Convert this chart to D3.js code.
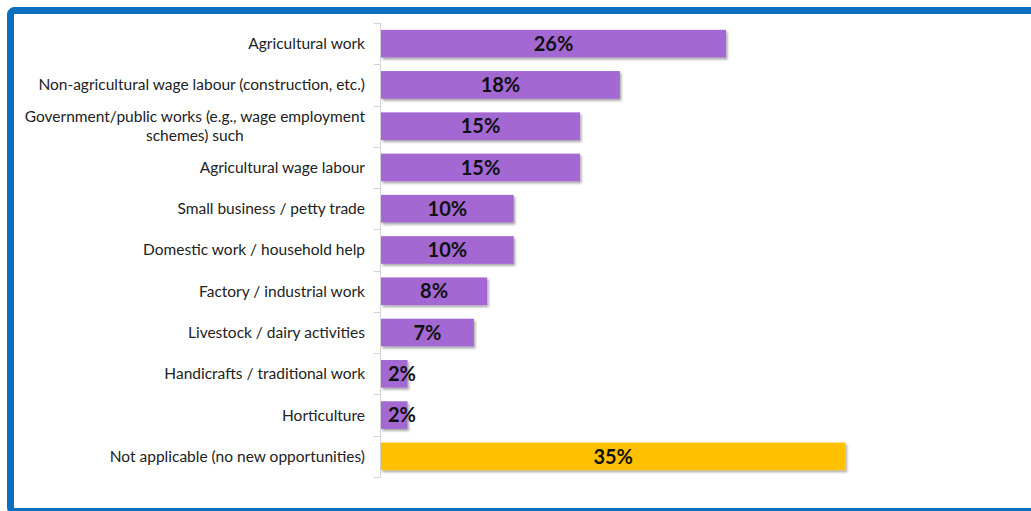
<!DOCTYPE html>
<html>
<head>
<meta charset="utf-8">
<script src="https://cdn.jsdelivr.net/npm/d3@7"></script>
<style>
  html, body { margin: 0; padding: 0; background: #ffffff; }
  svg { display: block; }
</style>
</head>
<body>
<svg id="chart" width="1031" height="511"></svg>
<script>
// Sources of new work opportunities (% of respondents)
const categories = [
  "Agricultural work",
  "Non-agricultural wage labour (construction, etc.)",
  "Government/public works (e.g., wage employment schemes) such",
  "Agricultural wage labour",
  "Small business / petty trade",
  "Domestic work / household help",
  "Factory / industrial work",
  "Livestock / dairy activities",
  "Handicrafts / traditional work",
  "Horticulture",
  "Not applicable (no new opportunities)"
];
const values = [26, 18, 15, 15, 10, 10, 8, 7, 2, 2, 35];
const highlighted = ["Not applicable (no new opportunities)"];

const W = 1031, H = 511;
const svg = d3.select("#chart");

// drop shadow used under the bars
const defs = svg.append("defs");
const f = defs.append("filter").attr("id", "barShadow")
  .attr("x", "-5%").attr("y", "-20%").attr("width", "115%").attr("height", "160%");
f.append("feDropShadow").attr("dx", 1.5).attr("dy", 2).attr("stdDeviation", 1.2)
  .attr("flood-color", "#000").attr("flood-opacity", 0.35);

// blue frame
svg.append("rect")
  .attr("x", 10.5).attr("y", 10.5)
  .attr("width", W + 20).attr("height", 501)
  .attr("rx", 4)
  .attr("fill", "#ffffff")
  .attr("stroke", "#0a6fbf").attr("stroke-width", 7);

const x = d3.scaleLinear().domain([0, 40]).range([381, 381 + 40 * 13.27]);
const y = d3.scaleBand().domain(categories).range([23, 477])
  .paddingInner(0.33).paddingOuter(0.165);

const data = categories.map((c, i) => ({ cat: c, value: values[i] }));

// category axis line with ticks at band boundaries
const axisG = svg.append("g");
axisG.append("line")
  .attr("x1", 380.5).attr("x2", 380.5)
  .attr("y1", y.range()[0]).attr("y2", y.range()[1])
  .attr("stroke", "#d4d4d4").attr("stroke-width", 1);
const step = y.step();
const boundaries = d3.range(categories.length + 1).map(i => y.range()[0] + i * step);
axisG.selectAll("line.tick").data(boundaries).join("line")
  .attr("class", "tick")
  .attr("x1", 374).attr("x2", 380.5)
  .attr("y1", d => Math.round(d) + 0.5).attr("y2", d => Math.round(d) + 0.5)
  .attr("stroke", "#d4d4d4").attr("stroke-width", 1);

// bars
svg.append("g").selectAll("rect").data(data).join("rect")
  .attr("x", x(0))
  .attr("y", d => y(d.cat))
  .attr("width", d => x(d.value) - x(0))
  .attr("height", y.bandwidth())
  .attr("fill", d => highlighted.includes(d.cat) ? "#ffc000" : "#a468d3")
  .attr("filter", "url(#barShadow)");

// value labels
const vl = svg.append("g").selectAll("text").data(data).join("text")
  .attr("y", d => y(d.cat) + y.bandwidth() / 2)
  .attr("dy", "0.36em")
  .attr("text-anchor", "middle")
  .style("font-family", "Lato, 'Open Sans', sans-serif")
  .style("font-weight", "bold")
  .style("font-size", "20px")
  .attr("fill", "#111111")
  .text(d => d.value + "%");
vl.each(function(d) {
  const tw = this.getComputedTextLength();
  const center = (x(0) + x(d.value)) / 2;
  const cx = Math.max(center, x(0) + 7 + tw / 2);
  d3.select(this).attr("x", cx);
});

// category labels, wrapped and right-aligned to the axis
const labelRight = 365;
const maxW = 350;
const lg = svg.append("g")
  .style("font-family", "Lato, 'Open Sans', sans-serif")
  .style("font-size", "15.5px")
  .attr("fill", "#222222");

data.forEach(d => {
  const t = lg.append("text").attr("text-anchor", "end");
  // greedy word wrap
  const words = d.cat.split(" ");
  const lines = [];
  let line = [];
  const probe = t.append("tspan");
  words.forEach(w => {
    const test = line.concat([w]).join(" ");
    probe.text(test);
    if (probe.node().getComputedTextLength() > maxW && line.length) {
      lines.push(line.join(" "));
      line = [w];
    } else {
      line.push(w);
    }
  });
  lines.push(line.join(" "));
  probe.remove();

  const cy = y(d.cat) + y.bandwidth() / 2;
  const lh = 19;
  if (lines.length === 1) {
    t.attr("x", labelRight).attr("y", cy).attr("dy", "0.35em").text(lines[0]);
  } else {
    // measure block width, then center lines within it
    const widths = lines.map(s => { const p = t.append("tspan").text(s); const w = p.node().getComputedTextLength(); p.remove(); return w; });
    const bw = d3.max(widths);
    const mid = labelRight - bw / 2;
    t.attr("text-anchor", "middle");
    lines.forEach((s, i) => {
      t.append("tspan")
        .attr("x", mid)
        .attr("y", cy + (i - (lines.length - 1) / 2) * lh)
        .attr("dy", "0.35em")
        .text(s);
    });
  }
});
</script>
</body>
</html>
